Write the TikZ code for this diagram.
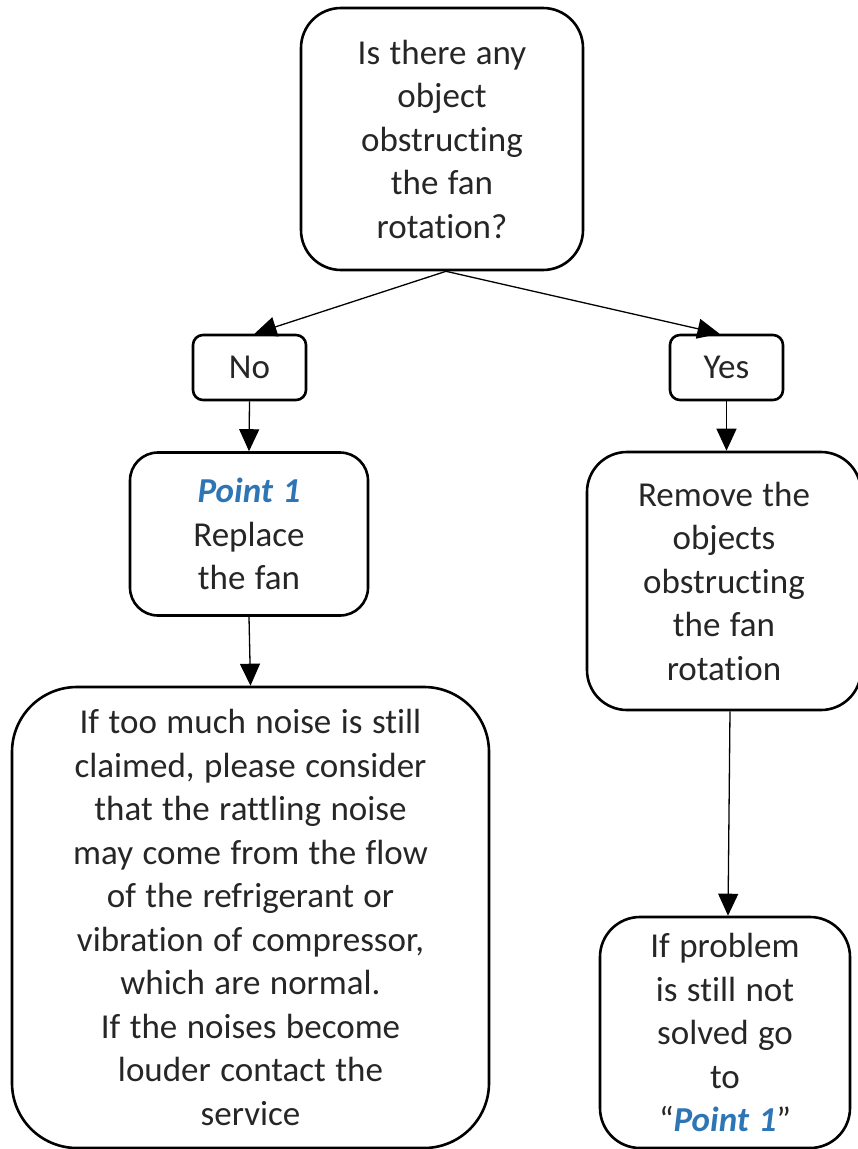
\documentclass[tikz,border=0pt]{standalone}
\usepackage{fontspec}
\setmainfont{Carlito}[Ligatures={NoCommon,NoContextual},RawFeature={-calt}]
\usetikzlibrary{arrows.meta}
\definecolor{txt}{HTML}{262626}
\definecolor{ptblue}{HTML}{2E75B6}
\newcommand{\ptone}{\textcolor{ptblue}{\textbf{\textit{Point 1}}}}
\newcommand{\boxfont}{\fontsize{35}{43.5}\selectfont\spaceskip=9.5pt plus 2pt minus 1pt\relax}
\begin{document}
\begin{tikzpicture}[x=1pt,y=-1pt,
  box/.style={draw=black,line width=2.6pt,align=center,inner sep=0pt,
    text=txt,font=\boxfont},
  conn/.style={line width=1.3pt,-{Triangle[length=22pt,width=20pt]}}]
\useasboundingbox (0,0) rectangle (858,1149);
\node[box,rounded corners=40pt,minimum width=282pt,minimum height=262pt] (q) at (442,139)
  {Is there any\\object\\obstructing\\the fan\\rotation?};
\node[box,rounded corners=10pt,minimum width=113pt,minimum height=65pt] (no) at (249.5,367.5) {No};
\node[box,rounded corners=10pt,minimum width=113pt,minimum height=65pt] (yes) at (726.5,367.5) {Yes};
\node[box,rounded corners=28pt,minimum width=238pt,minimum height=163pt] (p1) at (249,534)
  {\ptone\\Replace\\the fan};
\node[box,rounded corners=40pt,minimum width=274pt,minimum height=258pt] (rm) at (724,581)
  {Remove the\\objects\\obstructing\\the fan\\rotation};
\node[box,rounded corners=65pt,minimum width=477pt,minimum height=461pt] (big) at (250.5,917.5)
  {If too much noise is still\\claimed, please consider\\that the rattling noise\\may come from the flow\\of the refrigerant or\\vibration of compressor,\\which are normal.\\If the noises become\\louder contact the\\service};
\node[box,rounded corners=40pt,minimum width=250pt,minimum height=231pt] (ip) at (725,1032.5)
  {If problem\\is still not\\solved go\\to\\“\ptone”};
\draw[conn] ([xshift=4pt]q.south) -- ([xshift=5pt]no.north);
\draw[conn] ([xshift=4pt]q.south) -- ([xshift=-7pt]yes.north);
\draw[conn] (no.south) -- (p1.north);
\draw[conn] (p1.south) -- (big.north);
\draw[conn] (yes.south) -- ([xshift=2.5pt]rm.north);
\draw[conn] ([xshift=6pt]rm.south) -- ([xshift=3pt]ip.north);
\end{tikzpicture}
\end{document}
